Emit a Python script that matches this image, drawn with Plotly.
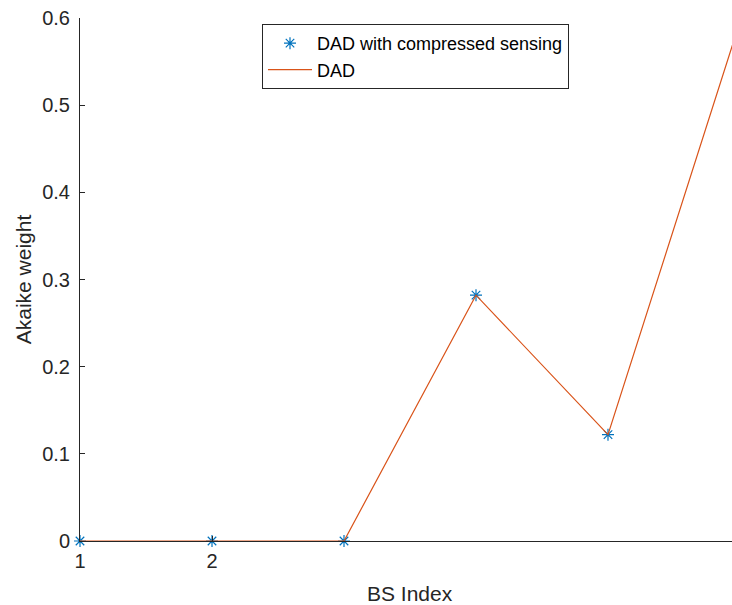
import plotly.graph_objects as go

bs_index = [1, 2, 3, 4, 5, 6]
dad_cs = [0.0, 0.0, 0.0, 0.282, 0.122, 0.596]
dad = [0.0, 0.0, 0.0, 0.282, 0.122, 0.596]
x_ticks = [1, 2]
y_ticks = [0, 0.1, 0.2, 0.3, 0.4, 0.5, 0.6]

FONT = "Liberation Sans, Arial, Helvetica, sans-serif"
AX = "#262626"

fig = go.Figure()
fig.add_trace(go.Scatter(
    x=bs_index, y=dad_cs, mode="markers", name="DAD with compressed sensing",
    marker=dict(symbol="asterisk-open", size=10, color="#0072BD",
                line=dict(color="#0072BD", width=1.2)),
    cliponaxis=False,
))
fig.add_trace(go.Scatter(
    x=bs_index, y=dad, mode="lines", name="DAD",
    line=dict(color="#D95319", width=1.2),
))

fig.update_layout(
    width=732, height=605,
    margin=dict(l=80, r=0, t=18, b=64),
    paper_bgcolor="white", plot_bgcolor="white",
    font=dict(family=FONT, size=20, color=AX),
    showlegend=True,
    legend=dict(x=(262 - 80) / 652, y=(541 - 24) / 523, xanchor="left", yanchor="top",
                bgcolor="white", bordercolor=AX, borderwidth=1, itemwidth=44,
                font=dict(size=18, color="#000000"), tracegroupgap=0),
)
fig.add_annotation(
    text="BS Index", xref="paper", yref="paper",
    x=(410 - 80) / 652, y=-(593 - 541) / 523, xanchor="center", yanchor="middle",
    showarrow=False, font=dict(size=21, color=AX),
)
fig.update_xaxes(
    range=[1, 1 + 652 / 132], tickvals=x_ticks, ticktext=[str(v) for v in x_ticks],
    showgrid=False, zeroline=False, showline=True, linecolor=AX, linewidth=1,
    ticks="inside", ticklen=5, tickcolor=AX, ticklabelstandoff=2,
    ticklabeloverflow="allow",
)
fig.update_yaxes(
    range=[0, 0.6], tickvals=y_ticks, ticktext=["0", "0.1", "0.2", "0.3", "0.4", "0.5", "0.6"],
    showgrid=False, zeroline=False, showline=True, linecolor=AX, linewidth=1,
    ticks="inside", ticklen=5, tickcolor=AX, ticklabelstandoff=5,
    ticklabeloverflow="allow",
    title=dict(text="Akaike weight", font=dict(size=21, color=AX), standoff=4),
)

fig.write_html(
    "out.html",
    config={"displayModeBar": False},
    post_script="document.body.style.margin='0';document.body.style.overflow='hidden';",
)
